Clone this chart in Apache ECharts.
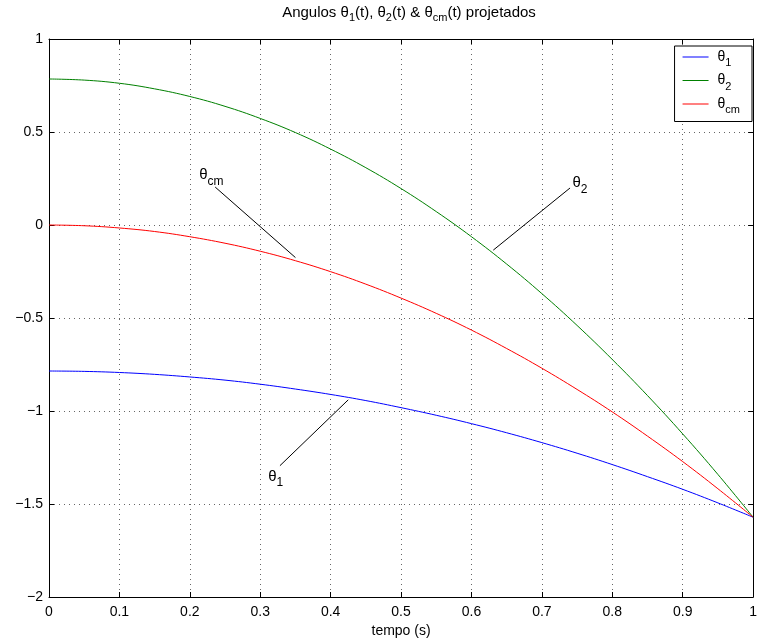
<!DOCTYPE html>
<html lang="pt">
<head>
<meta charset="UTF-8">
<title>Angulos projetados</title>
<script src="https://cdn.jsdelivr.net/npm/echarts@6/dist/echarts.min.js"></script>
<style>
    html, body { margin: 0; padding: 0; background: #fff; }
    #chart { width: 760px; height: 644px; }
</style>
</head>
<body>
<div id="chart"></div>
<script>
    // valores
    var tempo = [0, 0.05, 0.1, 0.15, 0.2, 0.25, 0.3, 0.35, 0.4, 0.45, 0.5,
        0.55, 0.6, 0.65, 0.7, 0.75, 0.8, 0.85, 0.9, 0.95, 1];
    var theta1 = [-0.785, -0.787, -0.793, -0.803, -0.817, -0.834, -0.856, -0.882, -0.911, -0.944, -0.982,
        -1.023, -1.068, -1.117, -1.170, -1.227, -1.288, -1.353, -1.421, -1.494, -1.571];
    var theta2 = [0.785, 0.779, 0.762, 0.732, 0.691, 0.638, 0.573, 0.497, 0.408, 0.308, 0.196,
        0.072, -0.063, -0.210, -0.369, -0.540, -0.723, -0.917, -1.123, -1.341, -1.571];
    var thetaCm = [0, -0.004, -0.016, -0.035, -0.063, -0.098, -0.141, -0.192, -0.251, -0.318, -0.393,
        -0.475, -0.565, -0.664, -0.770, -0.884, -1.005, -1.135, -1.272, -1.418, -1.571];
    var xTickLabels = ['0', '0.1', '0.2', '0.3', '0.4', '0.5', '0.6', '0.7', '0.8', '0.9', '1'];
    var yTickLabels = ['\u22122', '\u22121.5', '\u22121', '\u22120.5', '0', '0.5', '1'];

    // setas de anotacao (inicio, fim) e posicao dos textos
    var annotNames = ['cm', '2', '1'];
    var annotLines = [
        [[0.236, 0.204], [0.35, -0.175]],
        [[0.631, -0.135], [0.740, 0.199]],
        [[0.328, -1.294], [0.425, -0.94]]
    ];
    var annotText = [[0.2306, 0.267], [0.754, 0.224], [0.322, -1.354]];

    var fonte = "'Liberation Sans', Arial, Helvetica, sans-serif";
    var rich = {
        t: { fontSize: 15, fontFamily: fonte, color: '#000', fontWeight: 'normal' },
        s: { fontSize: 12, fontFamily: fonte, color: '#000', fontWeight: 'normal', padding: [12, 0, 0, 0] }
    };
    var legendRich = {
        t: { fontSize: 14, fontFamily: fonte, color: '#000', fontWeight: 'normal' },
        s: { fontSize: 11, fontFamily: fonte, color: '#000', fontWeight: 'normal', padding: [12, 0, 0, 0] }
    };
    var titleRich = {
        t: { fontSize: 15, fontFamily: fonte, color: '#000', fontWeight: 'normal' },
        s: { fontSize: 11, fontFamily: fonte, color: '#000', fontWeight: 'normal', padding: [10, 0, 0, 0] }
    };

    function pares(ys) {
        var out = [];
        for (var i = 0; i < tempo.length; i++) {
            out.push([tempo[i], ys[i]]);
        }
        return out;
    }

    var linhas = [];
    var pontos = [];
    for (var i = 0; i < annotLines.length; i++) {
        linhas.push([{ coord: annotLines[i][0] }, { coord: annotLines[i][1] }]);
        pontos.push({ coord: annotText[i], value: annotNames[i] });
    }

    var grade = { show: true, lineStyle: { color: '#666', type: [1, 4], width: 1 } };
    var eixo = { show: true, onZero: false, lineStyle: { color: '#000', width: 1 } };
    var marca = { show: true, inside: true, length: 5, lineStyle: { color: '#000' } };

    var mychart = echarts.init(document.getElementById('chart'));
    var option = {
        animation: false,
        backgroundColor: '#fff',
        title: {
            text: '{t|Angulos \u03b8}{s|1}{t|(t), \u03b8}{s|2}{t|(t) & \u03b8}{s|cm}{t|(t) projetados}',
            left: 404,
            textAlign: 'center',
            top: 0,
            padding: [2, 5, 2, 5],
            textStyle: { fontWeight: 'normal', rich: titleRich }
        },
        grid: { left: 49, right: 2, top: 39, bottom: 47, containLabel: false },
        legend: {
            orient: 'vertical',
            right: 8,
            top: 46,
            data: ['\u03b81', '\u03b82', '\u03b8cm'],
            backgroundColor: '#fff',
            borderColor: '#000',
            borderWidth: 1,
            borderRadius: 0,
            padding: [4, 12, 6, 8],
            itemGap: 5,
            icon: 'rect',
            itemWidth: 26,
            itemHeight: 1,
            formatter: function (name) {
                return '{t|\u03b8}{s|' + name.slice(1) + '}';
            },
            textStyle: { rich: legendRich, padding: [0, 0, 0, 4] }
        },
        xAxis: [{
            type: 'value', min: 0, max: 1, interval: 0.1, position: 'bottom',
            axisLine: eixo, axisTick: marca, splitLine: grade,
            axisLabel: {
                margin: 8, color: '#000', fontSize: 14, fontFamily: fonte,
                formatter: function (v) { return xTickLabels[Math.round(v * 10)]; }
            },
            name: 'tempo (s)', nameLocation: 'middle', nameGap: 27,
            nameTextStyle: { color: '#000', fontSize: 14, fontFamily: fonte }
        }, {
            type: 'value', min: 0, max: 1, interval: 0.1, position: 'top',
            axisLine: eixo, axisTick: marca, splitLine: { show: false },
            axisLabel: { show: false }
        }],
        yAxis: [{
            type: 'value', min: -2, max: 1, interval: 0.5, position: 'left',
            axisLine: eixo, axisTick: marca, splitLine: grade,
            axisLabel: {
                margin: 6, color: '#000', fontSize: 14, fontFamily: fonte,
                formatter: function (v) { return yTickLabels[Math.round((v + 2) / 0.5)]; }
            }
        }, {
            type: 'value', min: -2, max: 1, interval: 0.5, position: 'right',
            axisLine: eixo, axisTick: marca, splitLine: { show: false },
            axisLabel: { show: false }
        }],
        series: [{
            name: '\u03b81', type: 'line', smooth: 0.4, symbol: 'none',
            data: pares(theta1),
            lineStyle: { color: '#0000ff', width: 1 }, itemStyle: { color: '#0000ff' }
        }, {
            name: '\u03b82', type: 'line', smooth: 0.4, symbol: 'none',
            data: pares(theta2),
            lineStyle: { color: '#008000', width: 1 }, itemStyle: { color: '#008000' }
        }, {
            name: '\u03b8cm', type: 'line', smooth: 0.4, symbol: 'none',
            data: pares(thetaCm),
            lineStyle: { color: '#ff0000', width: 1 }, itemStyle: { color: '#ff0000' }
        }, {
            name: 'anotacoes', type: 'line', data: [], symbol: 'none',
            markLine: {
                silent: true, symbol: 'none',
                lineStyle: { color: '#000', width: 1, type: 'solid' },
                label: { show: false },
                data: linhas
            },
            markPoint: {
                silent: true, symbol: 'circle', symbolSize: 1,
                itemStyle: { color: 'rgba(0,0,0,0)' },
                label: {
                    show: true, position: 'inside',
                    formatter: function (p) { return '{t|\u03b8}{s|' + p.value + '}'; },
                    rich: rich
                },
                data: pontos
            }
        }]
    };
    mychart.setOption(option);
</script>
</body>
</html>
